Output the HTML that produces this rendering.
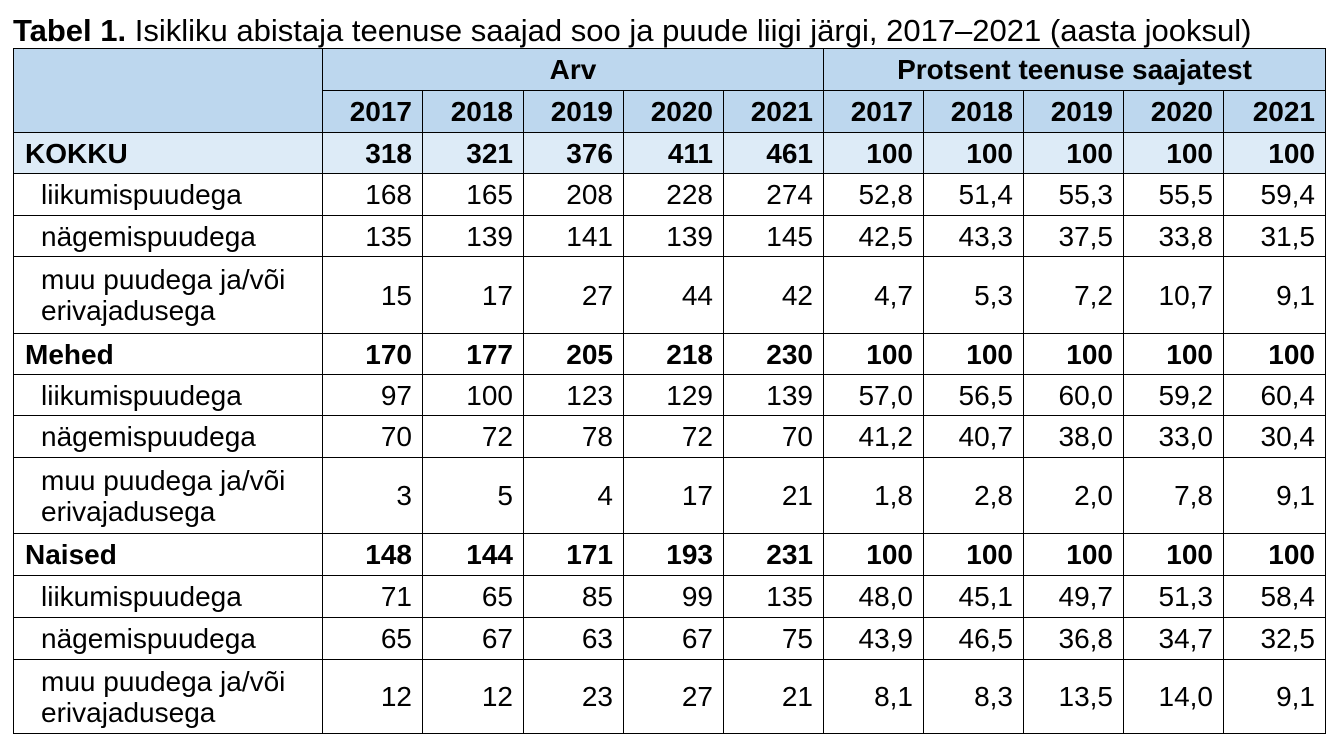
<!DOCTYPE html>
<html><head><meta charset="utf-8"><style>
body{margin:0;width:1338px;height:747px;background:#fff;position:relative;font-family:"Liberation Sans",Arial,sans-serif;color:#000;overflow:hidden}
.t{position:absolute;left:13px;top:15px;font-size:31px;white-space:nowrap;line-height:32px}
table{position:absolute;left:13px;top:48px;border-collapse:collapse;table-layout:fixed;font-size:28px}
td{border:1.5px solid #000;padding:0 10px 0 0;text-align:right;line-height:31px;box-sizing:border-box;white-space:nowrap}
.h{background:#BDD7EE;font-weight:bold}
.k{background:#DDEBF7;font-weight:bold}
.b{font-weight:bold}
td.l{text-align:left;padding-left:11px}
td.i{text-align:left;padding-left:27px}
td.c{text-align:center;padding:0}
</style></head><body>
<div class="t"><b>Tabel 1.</b> Isikliku abistaja teenuse saajad soo ja puude liigi järgi, 2017–2021 (aasta jooksul)</div>
<table>
<colgroup><col style="width:309px"><col style="width:100px"><col style="width:101px"><col style="width:100px"><col style="width:100px"><col style="width:100px"><col style="width:100px"><col style="width:100px"><col style="width:100px"><col style="width:100px"><col style="width:102px"></colgroup>
<tr class="h" style="height:42px"><td rowspan="2"></td><td colspan="5" class="c">Arv</td><td colspan="5" class="c">Protsent teenuse saajatest</td></tr>
<tr class="h" style="height:42px"><td>2017</td><td>2018</td><td>2019</td><td>2020</td><td>2021</td><td>2017</td><td>2018</td><td>2019</td><td>2020</td><td>2021</td></tr>
<tr class="k" style="height:41px"><td class="l">KOKKU</td><td>318</td><td>321</td><td>376</td><td>411</td><td>461</td><td>100</td><td>100</td><td>100</td><td>100</td><td>100</td></tr>
<tr style="height:42px"><td class="i">liikumispuudega</td><td>168</td><td>165</td><td>208</td><td>228</td><td>274</td><td>52,8</td><td>51,4</td><td>55,3</td><td>55,5</td><td>59,4</td></tr>
<tr style="height:41px"><td class="i">nägemispuudega</td><td>135</td><td>139</td><td>141</td><td>139</td><td>145</td><td>42,5</td><td>43,3</td><td>37,5</td><td>33,8</td><td>31,5</td></tr>
<tr style="height:77px"><td class="i">muu puudega ja/või<br>erivajadusega</td><td>15</td><td>17</td><td>27</td><td>44</td><td>42</td><td>4,7</td><td>5,3</td><td>7,2</td><td>10,7</td><td>9,1</td></tr>
<tr class="b" style="height:41px"><td class="l">Mehed</td><td>170</td><td>177</td><td>205</td><td>218</td><td>230</td><td>100</td><td>100</td><td>100</td><td>100</td><td>100</td></tr>
<tr style="height:41px"><td class="i">liikumispuudega</td><td>97</td><td>100</td><td>123</td><td>129</td><td>139</td><td>57,0</td><td>56,5</td><td>60,0</td><td>59,2</td><td>60,4</td></tr>
<tr style="height:42px"><td class="i">nägemispuudega</td><td>70</td><td>72</td><td>78</td><td>72</td><td>70</td><td>41,2</td><td>40,7</td><td>38,0</td><td>33,0</td><td>30,4</td></tr>
<tr style="height:76px"><td class="i">muu puudega ja/või<br>erivajadusega</td><td>3</td><td>5</td><td>4</td><td>17</td><td>21</td><td>1,8</td><td>2,8</td><td>2,0</td><td>7,8</td><td>9,1</td></tr>
<tr class="b" style="height:42px"><td class="l">Naised</td><td>148</td><td>144</td><td>171</td><td>193</td><td>231</td><td>100</td><td>100</td><td>100</td><td>100</td><td>100</td></tr>
<tr style="height:42px"><td class="i">liikumispuudega</td><td>71</td><td>65</td><td>85</td><td>99</td><td>135</td><td>48,0</td><td>45,1</td><td>49,7</td><td>51,3</td><td>58,4</td></tr>
<tr style="height:42px"><td class="i">nägemispuudega</td><td>65</td><td>67</td><td>63</td><td>67</td><td>75</td><td>43,9</td><td>46,5</td><td>36,8</td><td>34,7</td><td>32,5</td></tr>
<tr style="height:74px"><td class="i">muu puudega ja/või<br>erivajadusega</td><td>12</td><td>12</td><td>23</td><td>27</td><td>21</td><td>8,1</td><td>8,3</td><td>13,5</td><td>14,0</td><td>9,1</td></tr>
</table>
</body></html>
